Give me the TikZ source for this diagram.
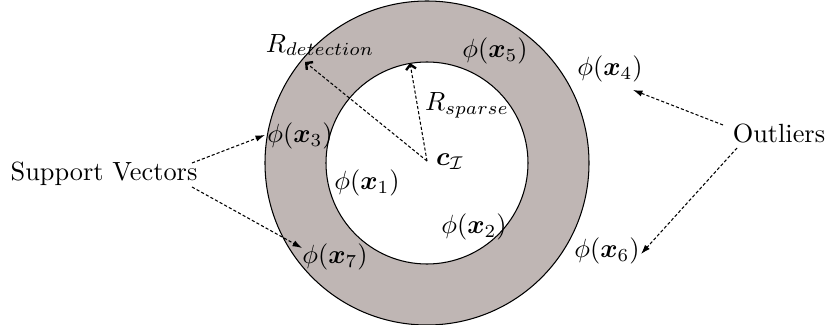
\documentclass[tikz,border=0pt]{standalone}
\usepackage{amsmath}
\usetikzlibrary{arrows.meta,calc}
\definecolor{ringfill}{RGB}{191,182,180}
\begin{document}
\begin{tikzpicture}[x=0.38pt,y=-0.38pt,
  lbl/.style={inner sep=0pt,anchor=center},
  rarrow/.style={dash pattern=on 1.2pt off 0.8pt,line width=0.4pt,-{Straight Barb[length=1.8pt,width=3.8pt,line width=0.9pt]}},
  parrow/.style={dash pattern=on 1.2pt off 0.8pt,line width=0.4pt,-{Latex[length=3.6pt,width=2.4pt]}}]
\useasboundingbox (0,0) rectangle (828,325);
\coordinate (c) at (427,163);
\fill[ringfill,draw=black,line width=0.4pt] (c) circle[radius=162];
\fill[white,draw=black,line width=0.4pt] (c) circle[radius=101];
\node[lbl] (rdet) at (320,45) {$R_{detection}$};
\node[lbl] (x5) at (495,51) {$\phi(\boldsymbol{x}_5)$};
\node[lbl] (rsp) at (467,105) {$R_{sparse}$};
\node[lbl] (x3) at (300,136) {$\phi(\boldsymbol{x}_3)$};
\node[lbl] (ci) at (450,162) {$\boldsymbol{c}_{\mathcal{I}}$};
\node[lbl] (sv) at (104,174) {Support Vectors};
\node[lbl] (x1) at (367,183) {$\phi(\boldsymbol{x}_1)$};
\node[lbl] (x2) at (474,227) {$\phi(\boldsymbol{x}_2)$};
\node[lbl] (x7) at (335,257) {$\phi(\boldsymbol{x}_7)$};
\node[lbl] (x4) at (610,69) {$\phi(\boldsymbol{x}_4)$};
\node[lbl] (out) at (779,134) {Outliers};
\node[lbl] (x6) at (607,251) {$\phi(\boldsymbol{x}_6)$};
\coordinate (detend) at (305,62);
\coordinate (spend) at (410,63);
\draw[rarrow] ($(c)+(0,-2)$) -- (detend);
\draw[rarrow] ($(c)+(0,-2)$) -- (spend);
\draw[parrow] ($(sv.center)+(88,-11)$) -- ($(x3.center)+(-35,-1)$);
\draw[parrow] ($(sv.center)+(88,13)$) -- ($(x7.center)+(-33,-9)$);
\draw[parrow] ($(out.center)+(-56,-9)$) -- ($(x4.center)+(23,21)$);
\draw[parrow] ($(out.center)+(-42,14)$) -- ($(x6.center)+(34,3)$);
\end{tikzpicture}
\end{document}
